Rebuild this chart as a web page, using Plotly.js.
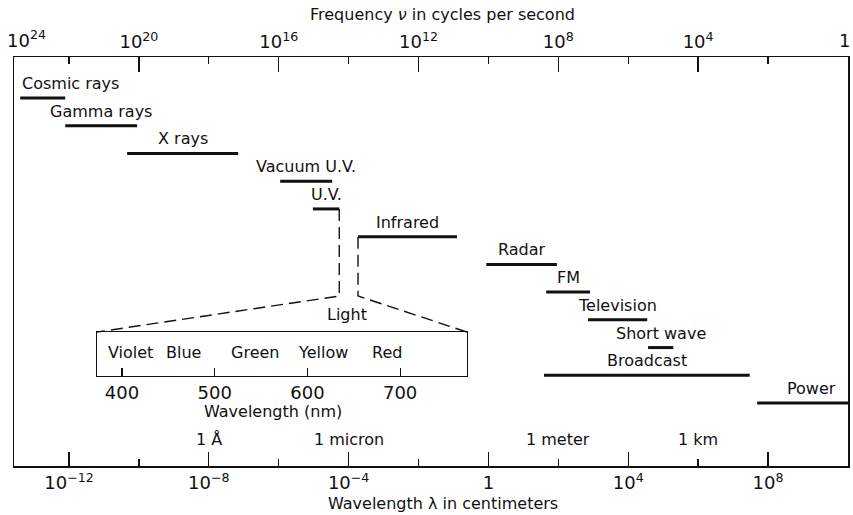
<!DOCTYPE html>
<html><head><meta charset="utf-8">
<script src="https://cdn.plot.ly/plotly-3.0.1.min.js"></script>
<style>html,body{margin:0;padding:0;background:#fff}#chart{width:853px;height:515px}</style>
</head><body><div id="chart"></div>
<script>
// ---- data ----
const bandNames   = ["Cosmic rays","Gamma rays","X rays","Vacuum U.V.","U.V.","Infrared","Radar","FM","Television","Short wave","Broadcast","Power"];
const bandStartCm = [4.0e-14, 7.8e-13, 4.6e-11, 1.1e-6, 9.5e-6, 1.86e-4, 0.87, 45, 710, 3.7e4, 39, 4.9e7];
const bandEndCm   = [7.8e-13, 8.9e-11, 6.9e-8, 3.4e-5, 5.4e-5, 0.126, 91, 810, 3.5e4, 1.95e5, 3.0e7, 1.95e10];
const bandRow     = [0,1,2,3,4,5,6,7,8,9,10,11];

const wlTickVals   = [1e-12, 1e-8, 1e-4, 1, 1e4, 1e8];
const wlTickText   = ["10<sup>−12</sup>","10<sup>−8</sup>","10<sup>−4</sup>","1","10<sup>4</sup>","10<sup>8</sup>"];
const wlMinorVals  = [1e-10, 1e-6, 1e-2, 1e2, 1e6];

const freqTickVals  = [1e24, 1e20, 1e16, 1e12, 1e8, 1e4, 1];
const freqTickText  = ["10<sup>24</sup>","10<sup>20</sup>","10<sup>16</sup>","10<sup>12</sup>","10<sup>8</sup>","10<sup>4</sup>","1"];
const freqMinorVals = [1e22, 1e18, 1e14, 1e10, 1e6, 1e2];

const unitNames = ["1 Å","1 micron","1 meter","1 km"];
const unitCm    = [1e-8, 1e-4, 1e2, 1e6];

const nmTicks    = [400, 500, 600, 700];
const colorNames = ["Violet","Blue","Green","Yellow","Red"];
const colorNm    = [409, 466, 543, 617, 686];

// ---- layout constants ----
const FONT = "DejaVu Sans, Arial, sans-serif";
const X_RANGE = [-13.574, 10.289];            // log10 cm
const F_RANGE = [23.574, -0.289];             // log10 Hz (as drawn)
const Y_RANGE = [13.27, -1.478];              // rows, top to bottom
const NM_RANGE = [373, 772];
const BOX_X = [0.0995, 0.543], BOX_Y = [0.22, 0.3276];
const BEND_Y = 0.4156;
const lg = Math.log10;
const px = v => (lg(v) - X_RANGE[0]) / (X_RANGE[1] - X_RANGE[0]);
const py = r => (Y_RANGE[0] - r) / (Y_RANGE[0] - Y_RANGE[1]);

// bands as one line trace
const bx = [], by = [];
bandNames.forEach((n, i) => { bx.push(bandStartCm[i], bandEndCm[i], null); by.push(bandRow[i], bandRow[i], null); });
const traces = [
  {x: bx, y: by, type: "scatter", mode: "lines", line: {color: "#111", width: 3}, hoverinfo: "skip", showlegend: false, xaxis: "x", yaxis: "y"},
  {x: [1e10], y: [0], type: "scatter", mode: "markers", marker: {opacity: 0}, hoverinfo: "skip", showlegend: false, xaxis: "x2", yaxis: "y"},
  {x: [500], y: [0.5], type: "scatter", mode: "markers", marker: {opacity: 0}, hoverinfo: "skip", showlegend: false, xaxis: "x3", yaxis: "y2"}
];

// the first and last frequency ticks fall on the frame: their labels are drawn as annotations
const freqInner = freqTickVals.slice(1, -1), freqInnerText = freqTickText.slice(1, -1);

const ann = [];
bandNames.forEach((n, i) => {
  const a = lg(bandStartCm[i]), b = Math.min(lg(bandEndCm[i]), X_RANGE[1] - 0.01);
  let o = {xref: "x", yref: "y", x: (a + b) / 2, y: bandRow[i], text: n, showarrow: false,
           xanchor: "center", yanchor: "bottom", yshift: 3, font: {family: FONT, size: 16, color: "#111"}};
  if (i === 0) { o.x = a; o.xanchor = "left"; }
  if (i === bandNames.length - 1) { o.x = b; o.xanchor = "right"; o.xshift = -10; }
  ann.push(o);
});
unitNames.forEach((n, i) => ann.push({xref: "x", yref: "paper", x: lg(unitCm[i]), y: 0.066, text: n, showarrow: false,
  xanchor: "center", yanchor: "middle", font: {family: FONT, size: 16, color: "#111"}}));
colorNames.forEach((n, i) => ann.push({xref: "x3", yref: "y2", x: colorNm[i], y: 0.5, yshift: 2, text: n, showarrow: false,
  xanchor: "center", yanchor: "middle", font: {family: FONT, size: 16, color: "#111"}}));
ann.push({xref: "paper", yref: "paper", x: 0.3993, y: 0.3692, text: "Light", showarrow: false, xanchor: "center", yanchor: "middle", font: {family: FONT, size: 16, color: "#111"}});
ann.push({xref: "paper", yref: "paper", x: (273 - 14) / 834, y: (466 - 411) / 409, text: "Wavelength (nm)", showarrow: false, xanchor: "center", yanchor: "middle", font: {family: FONT, size: 16, color: "#111"}});
ann.push({xref: "paper", yref: "paper", x: 0.514, y: 1.1027, text: "Frequency <i>ν</i> in cycles per second", showarrow: false, xanchor: "center", yanchor: "middle", font: {family: FONT, size: 16, color: "#111"}});
ann.push({xref: "paper", yref: "paper", x: 0.514, y: -0.0905, text: "Wavelength λ in centimeters", showarrow: false, xanchor: "center", yanchor: "middle", font: {family: FONT, size: 16, color: "#111"}});
ann.push({xref: "paper", yref: "paper", x: 0, xshift: 12, y: 1, yshift: 4, text: freqTickText[0], showarrow: false, xanchor: "center", yanchor: "bottom", font: {family: FONT, size: 18, color: "#111"}});
ann.push({xref: "paper", yref: "paper", x: 1, xshift: 4, y: 1, yshift: 4, text: freqTickText[freqTickText.length - 1], showarrow: false, xanchor: "right", yanchor: "bottom", font: {family: FONT, size: 18, color: "#111"}});

// dashed connectors from U.V. and Infrared down to the Light box
const uvX = px(bandEndCm[4]), irX = px(bandStartCm[5]);
const shapes = [
  {type: "path", xref: "paper", yref: "paper", path: `M ${uvX},${py(bandRow[4])} L ${uvX},${BEND_Y} L ${BOX_X[0]},${BOX_Y[1]}`,
   line: {color: "#111", width: 1.4, dash: "12px,6px"}},
  {type: "path", xref: "paper", yref: "paper", path: `M ${irX},${py(bandRow[5])} L ${irX},${BEND_Y} L ${BOX_X[1]},${BOX_Y[1]}`,
   line: {color: "#111", width: 1.4, dash: "12px,6px"}}
];

const layout = {
  width: 853, height: 515, margin: {l: 14, r: 5, t: 57, b: 49},
  paper_bgcolor: "#fff", plot_bgcolor: "rgba(0,0,0,0)", showlegend: false,
  font: {family: FONT, color: "#111"},
  xaxis: {type: "log", range: X_RANGE, domain: [0, 1], anchor: "y", side: "bottom",
    showline: true, linecolor: "#111", linewidth: 1.5, showgrid: false, zeroline: false,
    ticks: "inside", ticklen: 14, tickwidth: 1.3, tickcolor: "#111",
    tickmode: "array", tickvals: wlTickVals, ticktext: wlTickText, tickfont: {family: FONT, size: 18, color: "#111"},
    minor: {tickmode: "array", tickvals: wlMinorVals, ticks: "inside", ticklen: 7, tickwidth: 1.3, tickcolor: "#111", showgrid: false}},
  xaxis2: {type: "log", range: F_RANGE, overlaying: "x", anchor: "y", side: "top",
    showline: true, linecolor: "#111", linewidth: 1.5, showgrid: false, zeroline: false,
    ticks: "inside", ticklen: 15, tickwidth: 1.3, tickcolor: "#111",
    tickmode: "array", tickvals: freqInner, ticktext: freqInnerText, tickfont: {family: FONT, size: 18, color: "#111"},
    minor: {tickmode: "array", tickvals: freqMinorVals, ticks: "inside", ticklen: 7, tickwidth: 1.3, tickcolor: "#111", showgrid: false}},
  yaxis: {range: Y_RANGE, domain: [0, 1], anchor: "x", showline: true, mirror: true, linecolor: "#111", linewidth: 1.5,
    showgrid: false, zeroline: false, ticks: "", showticklabels: false},
  xaxis3: {range: NM_RANGE, domain: BOX_X, anchor: "y2", showline: true, mirror: true, linecolor: "#111", linewidth: 1.4,
    showgrid: false, zeroline: false, ticks: "inside", ticklen: 8, tickwidth: 1.2, tickcolor: "#111",
    tickmode: "array", tickvals: nmTicks, tickfont: {family: FONT, size: 18, color: "#111"}},
  yaxis2: {range: [0, 1], domain: BOX_Y, anchor: "x3", showline: true, mirror: true, linecolor: "#111", linewidth: 1.4,
    showgrid: false, zeroline: false, ticks: "", showticklabels: false},
  annotations: ann, shapes: shapes
};
Plotly.newPlot("chart", traces, layout, {staticPlot: true, displayModeBar: false});
</script></body></html>
